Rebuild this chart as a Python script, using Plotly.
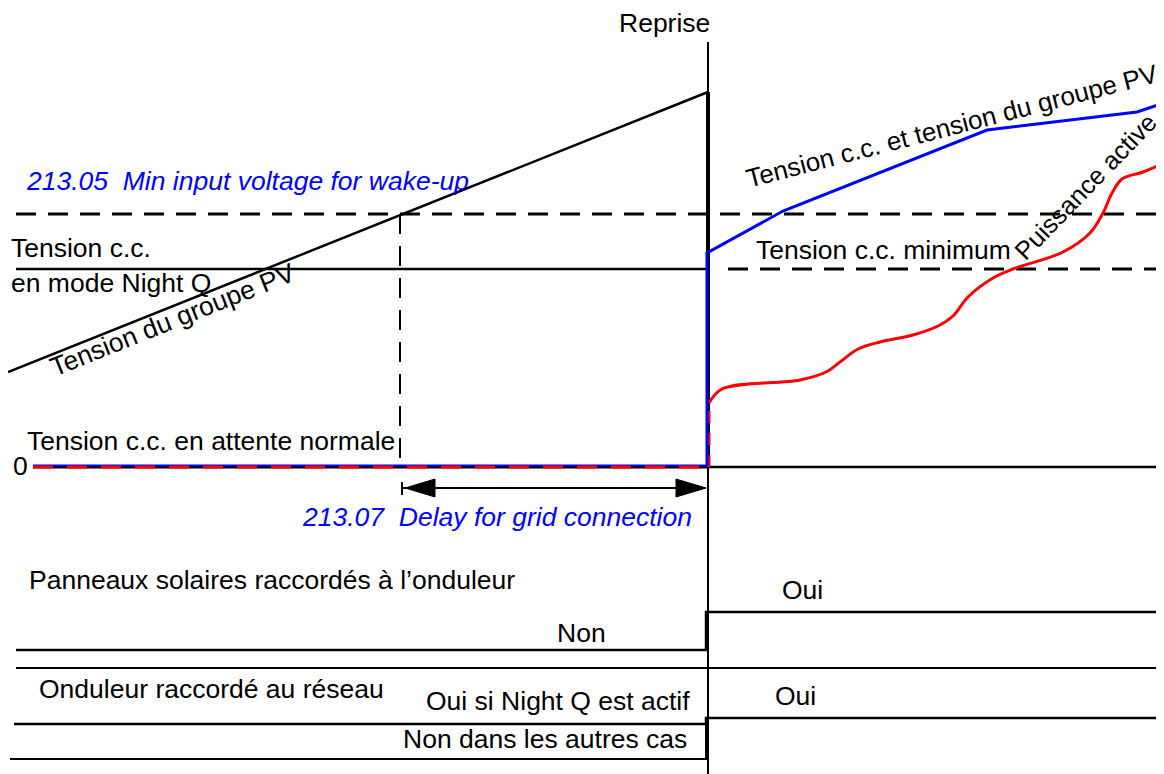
import plotly.graph_objects as go

# ---------------- data (diagram coordinates, y grows downward) ----------------
reprise_x = 708
reprise_top = 42
chart_bottom = 774
pv_x = [8, 708]                 # Tension du groupe PV (black ramp)
pv_y = [372, 92]
wake_level = 214                # 213.05 Min input voltage for wake-up
nightq_level = 269              # Tension c.c. en mode Night Q / minimum
zero_level = 467
wake_x = 400                    # instant where PV voltage reaches wake-up level
dc_x = [707, 707, 783, 987, 1137, 1164]     # Tension c.c. et tension du groupe PV
dc_y = [466, 253, 211, 130, 112, 103]
p_x = [709, 722, 800, 826, 840, 858, 880, 913, 938, 953, 968, 993, 1013,
       1063, 1090, 1103, 1112, 1122, 1143, 1164]            # Puissance active
p_y = [403, 389, 380, 372, 362, 349, 342, 335, 326, 316, 297, 278, 269,
       252, 233, 213, 193, 179, 172, 163]
delay_x = [402, 706]            # 213.07 Delay for grid connection
delay_y = 488
panel_x = [16, 706, 706, 1164]  # Panneaux solaires raccordés (Non -> Oui)
panel_y = [650, 650, 612, 612]
sep_y = 668
grid1_x = [14, 706, 706, 1164]  # Onduleur raccordé (Oui si Night Q -> Oui)
grid1_y = [724, 724, 718, 718]
grid2_x = [10, 706, 706]        # Onduleur raccordé (Non dans les autres cas -> Oui)
grid2_y = [759, 759, 718]

labels = {
    "reprise": "Reprise",
    "wake": "213.05  Min input voltage for wake-up",
    "nq1": "Tension c.c.",
    "nq2": "en mode Night Q",
    "pv": "Tension du groupe PV",
    "standby": "Tension c.c. en attente normale",
    "zero": "0",
    "delay": "213.07  Delay for grid connection",
    "dcpv": "Tension c.c. et tension du groupe PV",
    "dcmin": "Tension c.c. minimum",
    "power": "Puissance active",
    "panels": "Panneaux solaires raccordés à l’onduleur",
    "oui": "Oui",
    "non": "Non",
    "grid": "Onduleur raccordé au réseau",
    "ouinq": "Oui si Night Q est actif",
    "nonautres": "Non dans les autres cas",
}

BLACK = "#000000"
BLUE = "#0000FF"
RED = "#FF0000"
FONT = "Liberation Sans, Arial, sans-serif"
FS = 26.5
DASH = "20px,12px"
PAGE_OFFSET = 8   # default page margin around the plot div

fig = go.Figure()


def line(x, y, color=BLACK, width=2, dash="solid", shape="linear"):
    fig.add_trace(go.Scatter(x=x, y=y, mode="lines", hoverinfo="skip",
                             line=dict(color=color, width=width, dash=dash, shape=shape)))


# Reprise vertical line
line([reprise_x, reprise_x], [reprise_top, chart_bottom + 10], width=2)
line([reprise_x, reprise_x], [pv_y[-1], zero_level], width=4)

# PV ramp
line(pv_x, pv_y, width=2.5)

# wake-up level (dashed across)
line([16, 1170], [wake_level, wake_level], width=3, dash=DASH)
# Night Q level: solid on the left, dashed (minimum) on the right
line([16, reprise_x], [nightq_level, nightq_level], width=2.5)
line([reprise_x + 20, 1170], [nightq_level, nightq_level], width=3, dash=DASH)
# vertical dashed at wake instant
line([wake_x, wake_x], [wake_level, zero_level], width=2, dash=DASH)

# zero level
line([33, reprise_x], [zero_level, zero_level], width=3)
line([33, reprise_x], [zero_level - 1.5, zero_level - 1.5], color=BLUE, width=2)
line([33, reprise_x], [zero_level, zero_level], color=RED, width=3, dash="20px,14px")
line([reprise_x, 1170], [zero_level, zero_level], width=2.5)

# red dashed rise then active power curve
line([709, 709], [zero_level, p_y[0]], color=RED, width=3, dash="12px,10px")
line(p_x, p_y, color=RED, width=3, shape="spline")
# blue DC voltage
line(dc_x, dc_y, color=BLUE, width=3)

# delay arrow
line(delay_x, [delay_y, delay_y], width=2)
line([delay_x[0], delay_x[0]], [delay_y - 6, delay_y + 7], width=2)
head_len, head_half = 30, 9
for tip, sgn in ((delay_x[0] + 3, 1), (delay_x[1], -1)):
    fig.add_trace(go.Scatter(
        x=[tip, tip + sgn * head_len, tip + sgn * head_len, tip],
        y=[delay_y, delay_y - head_half, delay_y + head_half, delay_y],
        mode="lines", fill="toself", fillcolor=BLACK,
        line=dict(color=BLACK, width=1), hoverinfo="skip"))

# timing rows
line(panel_x, panel_y, width=2.5)
line([16, 1170], [sep_y, sep_y], width=2)
line(grid1_x, grid1_y, width=2.5)
line(grid2_x, grid2_y, width=2)

# ---------------- text ----------------
def text(key, x, y, color=BLACK, xanchor="left", angle=0, italic=False, size=FS):
    fig.add_annotation(x=x, y=y, text=labels[key], showarrow=False,
                       xanchor=xanchor, yanchor="middle", textangle=angle,
                       font=dict(family=FONT, size=size, color=color,
                                 style="italic" if italic else "normal"))


text("reprise", 664, 23, xanchor="center")
text("wake", 24, 181, color=BLUE, italic=True)
text("nq1", 9, 248)
text("nq2", 9, 283)
text("pv", 172, 320, xanchor="center", angle=-21.8)
text("standby", 25, 441)
text("zero", 30, 466, xanchor="right")
text("delay", 300, 517, color=BLUE, italic=True)
text("dcpv", 952, 126, xanchor="center", angle=-14.5, size=26)
text("dcmin", 754, 250)
text("power", 1085, 187, xanchor="center", angle=-46, size=25.5)
text("panels", 27, 580)
text("oui", 802, 590, xanchor="center")
text("non", 581, 633, xanchor="center")
text("grid", 37, 689)
text("ouinq", 692, 701, xanchor="right")
text("oui", 795, 696, xanchor="center")
text("nonautres", 689, 739, xanchor="right")

fig.update_layout(
    width=1164, height=774, margin=dict(l=0, r=0, t=0, b=0),
    paper_bgcolor="white", plot_bgcolor="white", showlegend=False,
    xaxis=dict(range=[PAGE_OFFSET, 1164 + PAGE_OFFSET], visible=False, fixedrange=True),
    yaxis=dict(range=[774 + PAGE_OFFSET, PAGE_OFFSET], visible=False, fixedrange=True),
)

fig.write_html("out.html")
